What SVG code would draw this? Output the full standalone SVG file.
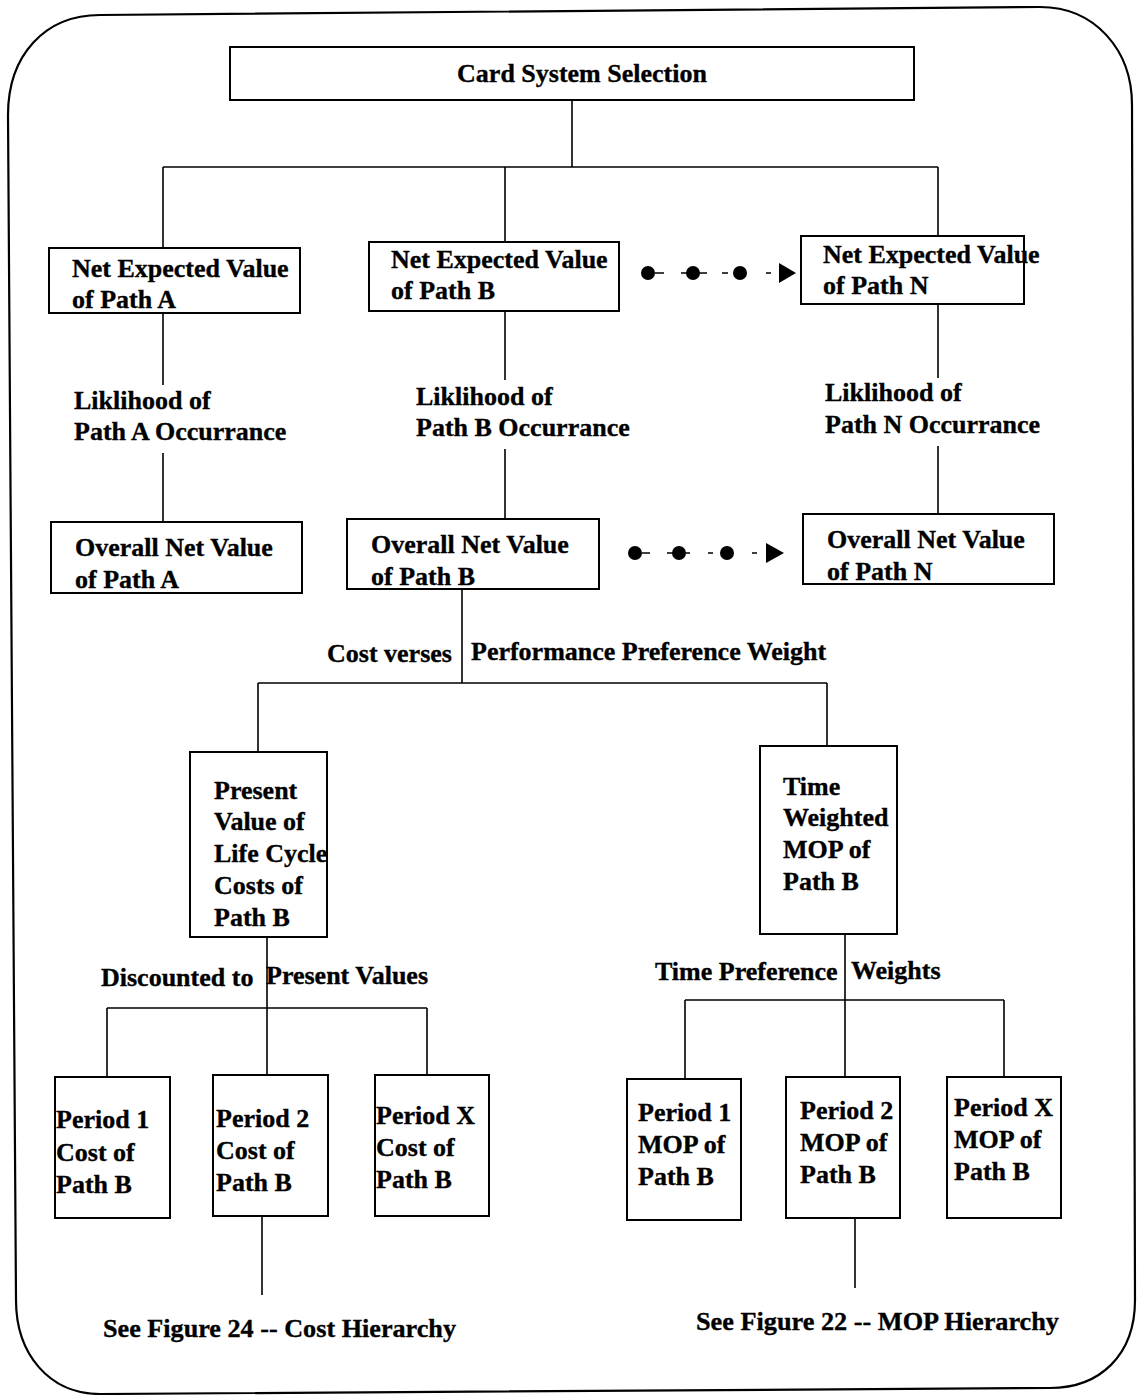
<svg xmlns="http://www.w3.org/2000/svg" width="1137" height="1395" viewBox="0 0 1137 1395">
  <style>
    .box { fill: #fff; stroke: #000; stroke-width: 2; }
    .wire { fill: none; stroke: #000; stroke-width: 1.6; }
    .frame { fill: none; stroke: #000; stroke-width: 2.2; }
    text { font-family: "Liberation Serif", "Times New Roman", serif; font-weight: bold; font-size: 26px; fill: #000; stroke: #000; stroke-width: 0.35; }
    .dot { fill: #000; }
  </style>
  <rect width="1137" height="1395" fill="#fff"/>

  <!-- outer rounded frame -->
  <path class="frame" d="M 100,15 L 1040,7 C 1095,7 1132,50 1132,105 L 1135,1300 C 1135,1355 1100,1388 1050,1388 L 100,1394 C 50,1394 16,1355 16,1300 L 8,115 C 8,55 45,15 100,15 Z"/>

  <!-- connectors -->
  <g id="connectors">
    <path class="wire" d="M 572,100 V 167 M 163,167 H 938 M 163,167 V 248 M 505,167 V 242 M 938,167 V 236"/>
    <path class="wire" d="M 163,313 V 385 M 163,453 V 522"/>
    <path class="wire" d="M 505,311 V 380 M 505,449 V 519"/>
    <path class="wire" d="M 938,304 V 378 M 938,446 V 514"/>
    <path class="wire" d="M 462,589 V 683 M 258,683 H 827 M 258,683 V 752 M 827,683 V 746"/>
    <path class="wire" d="M 267,937 V 1075 M 107,1008 H 427 M 107,1008 V 1077 M 427,1008 V 1075"/>
    <path class="wire" d="M 262,1216 V 1295"/>
    <path class="wire" d="M 845,934 V 1077 M 685,1000 H 1004 M 685,1000 V 1079 M 1004,1000 V 1077"/>
    <path class="wire" d="M 855,1213 V 1288"/>

    <!-- dotted continuation arrows -->
    <g id="more-top">
      <circle class="dot" cx="648" cy="273" r="7"/>
      <circle class="dot" cx="693" cy="273" r="7"/>
      <circle class="dot" cx="740" cy="273" r="7"/>
      <path class="wire" d="M 655,273 H 664 M 681,273 H 707 M 722,273 H 728 M 766,273 H 771"/>
      <polygon class="dot" points="779,263 796,273 779,283"/>
    </g>
    <g id="more-bottom">
      <circle class="dot" cx="635" cy="553" r="7"/>
      <circle class="dot" cx="679" cy="553" r="7"/>
      <circle class="dot" cx="727" cy="553" r="7"/>
      <path class="wire" d="M 642,553 H 650 M 667,553 H 690 M 708,553 H 713 M 752,553 H 757"/>
      <polygon class="dot" points="766,543 784,553 766,563"/>
    </g>
  </g>

  <!-- root -->
  <g id="card-system-selection">
    <rect class="box" x="230" y="47" width="684" height="53"/>
    <text x="582" y="82" text-anchor="middle">Card System Selection</text>
  </g>

  <!-- path level -->
  <g id="nev-path-a">
    <rect class="box" x="49" y="248" width="251" height="65"/>
    <text x="72" y="277">Net Expected Value</text>
    <text x="72" y="308">of Path A</text>
  </g>
  <g id="nev-path-b">
    <rect class="box" x="369" y="242" width="250" height="69"/>
    <text x="391" y="268">Net Expected Value</text>
    <text x="391" y="299">of Path B</text>
  </g>
  <g id="nev-path-n">
    <rect class="box" x="801" y="236" width="223" height="68"/>
    <text x="823" y="263">Net Expected Value</text>
    <text x="823" y="294">of Path N</text>
  </g>

  <!-- likelihood labels -->
  <g id="likelihood-a">
    <text x="74" y="409">Liklihood of</text>
    <text x="74" y="440">Path A Occurrance</text>
  </g>
  <g id="likelihood-b">
    <text x="416" y="405">Liklihood of</text>
    <text x="416" y="436">Path B Occurrance</text>
  </g>
  <g id="likelihood-n">
    <text x="825" y="401">Liklihood of</text>
    <text x="825" y="433">Path N Occurrance</text>
  </g>

  <!-- overall values -->
  <g id="overall-a">
    <rect class="box" x="51" y="522" width="251" height="71"/>
    <text x="75" y="556">Overall Net Value</text>
    <text x="75" y="588">of Path A</text>
  </g>
  <g id="overall-b">
    <rect class="box" x="347" y="519" width="252" height="70"/>
    <text x="371" y="553">Overall Net Value</text>
    <text x="371" y="585">of Path B</text>
  </g>
  <g id="overall-n">
    <rect class="box" x="803" y="514" width="251" height="70"/>
    <text x="827" y="548">Overall Net Value</text>
    <text x="827" y="580">of Path N</text>
  </g>

  <!-- weighting label -->
  <g id="cost-vs-performance">
    <text x="327" y="662">Cost verses</text>
    <text x="471" y="660">Performance Preference Weight</text>
  </g>

  <!-- cost / performance branches -->
  <g id="present-value">
    <rect class="box" x="190" y="752" width="137" height="185"/>
    <text x="214" y="799">Present</text>
    <text x="214" y="830">Value of</text>
    <text x="214" y="862">Life Cycle</text>
    <text x="214" y="894">Costs of</text>
    <text x="214" y="926">Path B</text>
  </g>
  <g id="time-weighted-mop">
    <rect class="box" x="760" y="746" width="137" height="188"/>
    <text x="783" y="795">Time</text>
    <text x="783" y="826">Weighted</text>
    <text x="783" y="858">MOP of</text>
    <text x="783" y="890">Path B</text>
  </g>

  <g id="discounted-label">
    <text x="101" y="986">Discounted to</text>
    <text x="266" y="984">Present Values</text>
  </g>
  <g id="time-preference-label">
    <text x="655" y="980">Time Preference</text>
    <text x="851" y="979">Weights</text>
  </g>

  <!-- period costs -->
  <g id="cost-period-1">
    <rect class="box" x="55" y="1077" width="115" height="141"/>
    <text x="56" y="1128">Period 1</text>
    <text x="56" y="1161">Cost of</text>
    <text x="56" y="1193">Path B</text>
  </g>
  <g id="cost-period-2">
    <rect class="box" x="213" y="1075" width="115" height="141"/>
    <text x="216" y="1127">Period 2</text>
    <text x="216" y="1159">Cost of</text>
    <text x="216" y="1191">Path B</text>
  </g>
  <g id="cost-period-x">
    <rect class="box" x="375" y="1075" width="114" height="141"/>
    <text x="376" y="1124">Period X</text>
    <text x="376" y="1156">Cost of</text>
    <text x="376" y="1188">Path B</text>
  </g>

  <!-- period MOPs -->
  <g id="mop-period-1">
    <rect class="box" x="627" y="1079" width="114" height="141"/>
    <text x="638" y="1121">Period 1</text>
    <text x="638" y="1153">MOP of</text>
    <text x="638" y="1185">Path B</text>
  </g>
  <g id="mop-period-2">
    <rect class="box" x="786" y="1077" width="114" height="141"/>
    <text x="800" y="1119">Period 2</text>
    <text x="800" y="1151">MOP of</text>
    <text x="800" y="1183">Path B</text>
  </g>
  <g id="mop-period-x">
    <rect class="box" x="947" y="1077" width="114" height="141"/>
    <text x="954" y="1116">Period X</text>
    <text x="954" y="1148">MOP of</text>
    <text x="954" y="1180">Path B</text>
  </g>

  <!-- references -->
  <g id="see-cost-hierarchy">
    <text x="103" y="1337" textLength="353" lengthAdjust="spacingAndGlyphs">See Figure 24 -- Cost Hierarchy</text>
  </g>
  <g id="see-mop-hierarchy">
    <text x="696" y="1330" textLength="363" lengthAdjust="spacingAndGlyphs">See Figure 22 -- MOP Hierarchy</text>
  </g>
</svg>
